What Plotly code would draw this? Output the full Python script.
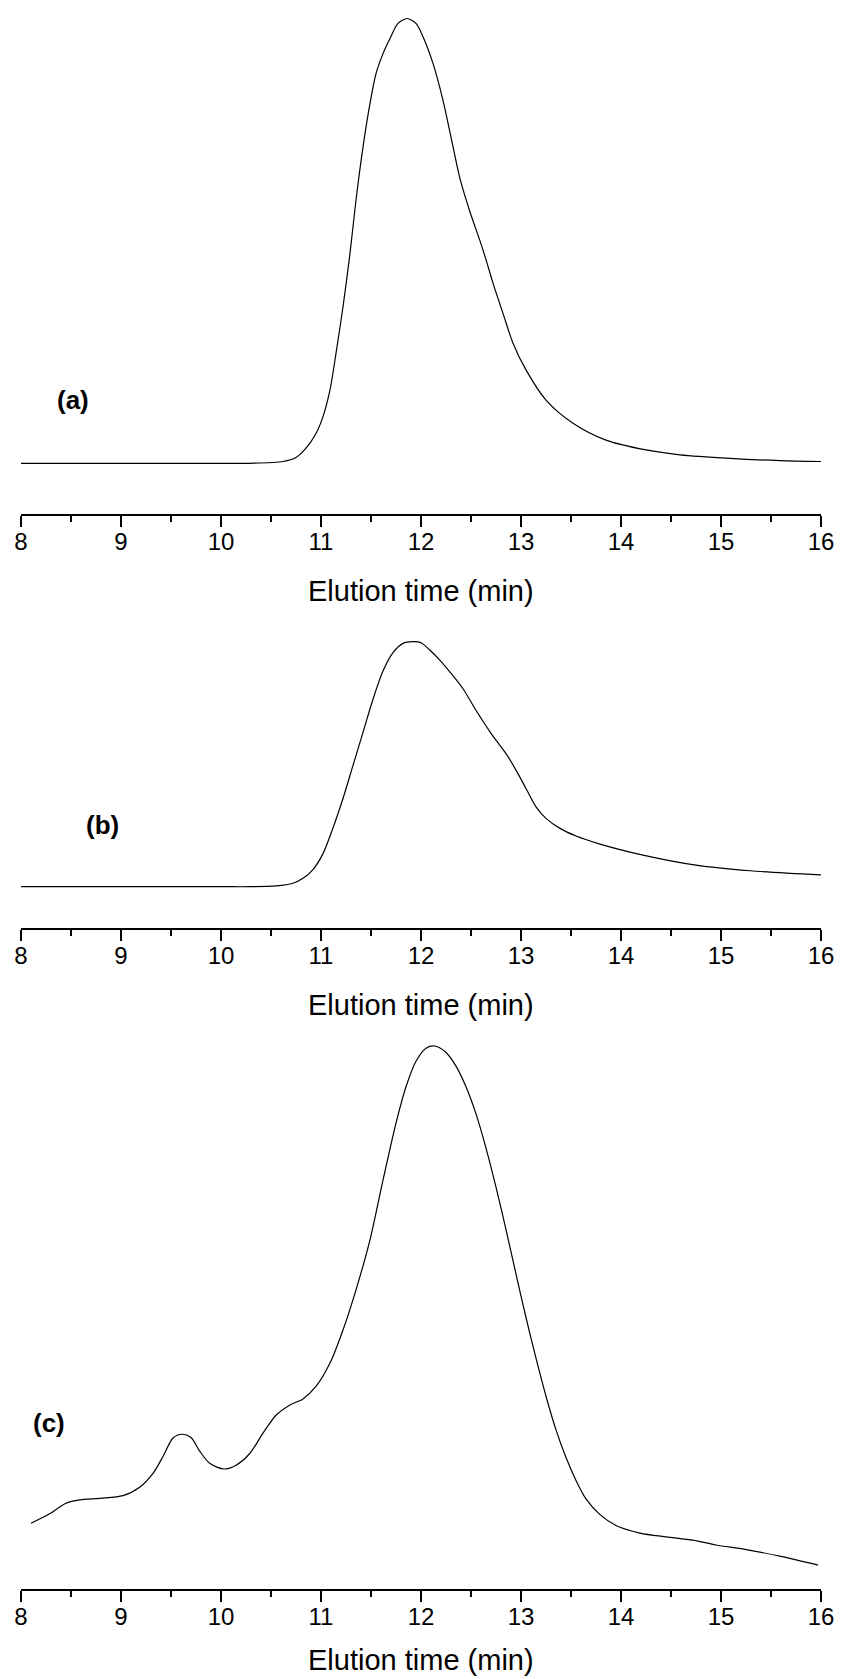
import plotly.graph_objects as go

# ---- data (normalized detector signal) ----
t_a = [8.0, 9.0, 10.0, 10.29, 10.62, 10.75, 10.85, 10.95, 11.02, 11.09, 11.15, 11.22, 11.29, 11.35,
       11.42, 11.49, 11.55, 11.62, 11.69, 11.77, 11.86, 11.95, 12.02, 12.12, 12.22, 12.32, 12.39,
       12.49, 12.59, 12.65, 12.72, 12.82, 12.92, 13.05, 13.25, 13.52, 13.85, 14.25, 14.59, 15.09,
       15.59, 16.0]
sig_a = [0.0, 0.0, 0.0, 0.0, 0.004, 0.013, 0.034, 0.067, 0.105, 0.165, 0.247, 0.352, 0.472, 0.592,
         0.711, 0.809, 0.876, 0.921, 0.955, 0.989, 1.0, 0.989, 0.959, 0.899, 0.816, 0.712, 0.640,
         0.565, 0.500, 0.458, 0.405, 0.337, 0.270, 0.210, 0.142, 0.090, 0.052, 0.030, 0.019, 0.011,
         0.006, 0.004]

t_b = [8.0, 9.0, 10.0, 10.29, 10.55, 10.72, 10.82, 10.92, 11.02, 11.12, 11.22, 11.32, 11.42, 11.52,
       11.62, 11.72, 11.82, 11.92, 12.00, 12.09, 12.19, 12.29, 12.42, 12.55, 12.69, 12.75, 12.85,
       12.95, 13.05, 13.15, 13.25, 13.39, 13.55, 13.79, 14.22, 14.75, 15.29, 16.0]
sig_b = [0.0, 0.0, 0.0, 0.0, 0.003, 0.014, 0.034, 0.070, 0.135, 0.240, 0.360, 0.495, 0.630, 0.765,
         0.880, 0.955, 0.993, 1.0, 0.996, 0.965, 0.924, 0.876, 0.808, 0.720, 0.632, 0.598, 0.543,
         0.476, 0.401, 0.326, 0.279, 0.238, 0.207, 0.174, 0.129, 0.088, 0.065, 0.048]

t_c = [8.1, 8.29, 8.45, 8.59, 8.79, 9.02, 9.19, 9.32, 9.42, 9.52, 9.61, 9.70, 9.79, 9.89, 10.03,
       10.15, 10.29, 10.42, 10.55, 10.69, 10.82, 10.95, 11.09, 11.22, 11.35, 11.49, 11.62, 11.75,
       11.85, 11.95, 12.05, 12.14, 12.25, 12.35, 12.45, 12.55, 12.65, 12.75, 12.85, 12.95, 13.05,
       13.15, 13.25, 13.35, 13.45, 13.55, 13.65, 13.79, 13.95, 14.19, 14.45, 14.72, 14.95, 15.24,
       15.6, 15.97]
sig_c = [0.121, 0.139, 0.158, 0.164, 0.167, 0.172, 0.188, 0.213, 0.244, 0.278, 0.285, 0.279, 0.253,
         0.231, 0.221, 0.228, 0.250, 0.287, 0.320, 0.339, 0.350, 0.373, 0.416, 0.477, 0.551, 0.643,
         0.753, 0.858, 0.925, 0.972, 0.996, 1.0, 0.988, 0.963, 0.925, 0.875, 0.812, 0.740, 0.662,
         0.580, 0.500, 0.425, 0.355, 0.293, 0.242, 0.200, 0.166, 0.137, 0.117, 0.103, 0.096, 0.090,
         0.081, 0.073, 0.060, 0.044]

panel_labels = ["(a)", "(b)", "(c)"]
x_title = "Elution time (min)"
x_ticks = [8, 9, 10, 11, 12, 13, 14, 15, 16]

W, H = 843, 1679
FONT = "Liberation Sans, Arial, sans-serif"

fig = go.Figure()
series = [(t_a, sig_a), (t_b, sig_b), (t_c, sig_c)]
for i, (tx, sy) in enumerate(series):
    fig.add_trace(go.Scatter(
        x=tx, y=sy, mode="lines",
        line=dict(color="black", width=1.2, shape="spline", smoothing=0.8),
        xaxis="x" if i == 0 else f"x{i+1}",
        yaxis="y" if i == 0 else f"y{i+1}",
        showlegend=False, hoverinfo="skip"))

def frac(px):
    return 1 - px / H

# panel layout: (axis pixel y, top pixel y, y-range, title offset)
panels = [
    (514, 0, [-0.1140, 1.0416], 77),
    (928, 600, [-0.1686, 1.1702], 77),
    (1589, 1000, [0.0, 1.0847], 71),
]

xaxis_common = dict(
    range=[8, 16], tickvals=x_ticks, ticktext=[str(v) for v in x_ticks],
    showline=True, linecolor="black", linewidth=2,
    ticks="outside", ticklen=11, tickwidth=2, tickcolor="black",
    minor=dict(ticks="outside", ticklen=6, tickwidth=1.6, tickcolor="black", dtick=0.5, tick0=8),
    showgrid=False, zeroline=False,
    tickfont=dict(family=FONT, size=24, color="black"),
    ticklabelstandoff=-6,
    automargin=False, fixedrange=True,
)

layout = dict(
    width=W, height=H,
    margin=dict(l=21, r=22, t=0, b=0),
    paper_bgcolor="white", plot_bgcolor="rgba(0,0,0,0)",
    showlegend=False,
)

annotations = []
label_pos = [(73, 400), (102, 825), (49, 1423)]
for i, (axis_px, top_px, yr, toff) in enumerate(panels):
    xn = "xaxis" if i == 0 else f"xaxis{i+1}"
    yn = "yaxis" if i == 0 else f"yaxis{i+1}"
    ysuffix = "y" if i == 0 else f"y{i+1}"
    xsuffix = "x" if i == 0 else f"x{i+1}"
    layout[xn] = dict(xaxis_common, anchor=ysuffix)
    layout[yn] = dict(domain=[frac(axis_px), frac(top_px)], range=yr, visible=False,
                      anchor=xsuffix, fixedrange=True)
    annotations.append(dict(
        text=x_title, xref="paper", yref="paper", x=0.5, y=frac(axis_px + toff),
        xanchor="center", yanchor="middle", showarrow=False,
        font=dict(family=FONT, size=29, color="black")))
    lx, ly = label_pos[i]
    annotations.append(dict(
        text=f"<b>{panel_labels[i]}</b>", xref="paper", yref="paper",
        x=(lx - 21) / 800, y=frac(ly), xanchor="center", yanchor="middle", showarrow=False,
        font=dict(family=FONT, size=26, color="black")))

layout["annotations"] = annotations
fig.update_layout(**layout)
fig.write_html("out.html", config={"displayModeBar": False},
               post_script="document.body.style.margin='0px';document.body.style.overflow='hidden';")
